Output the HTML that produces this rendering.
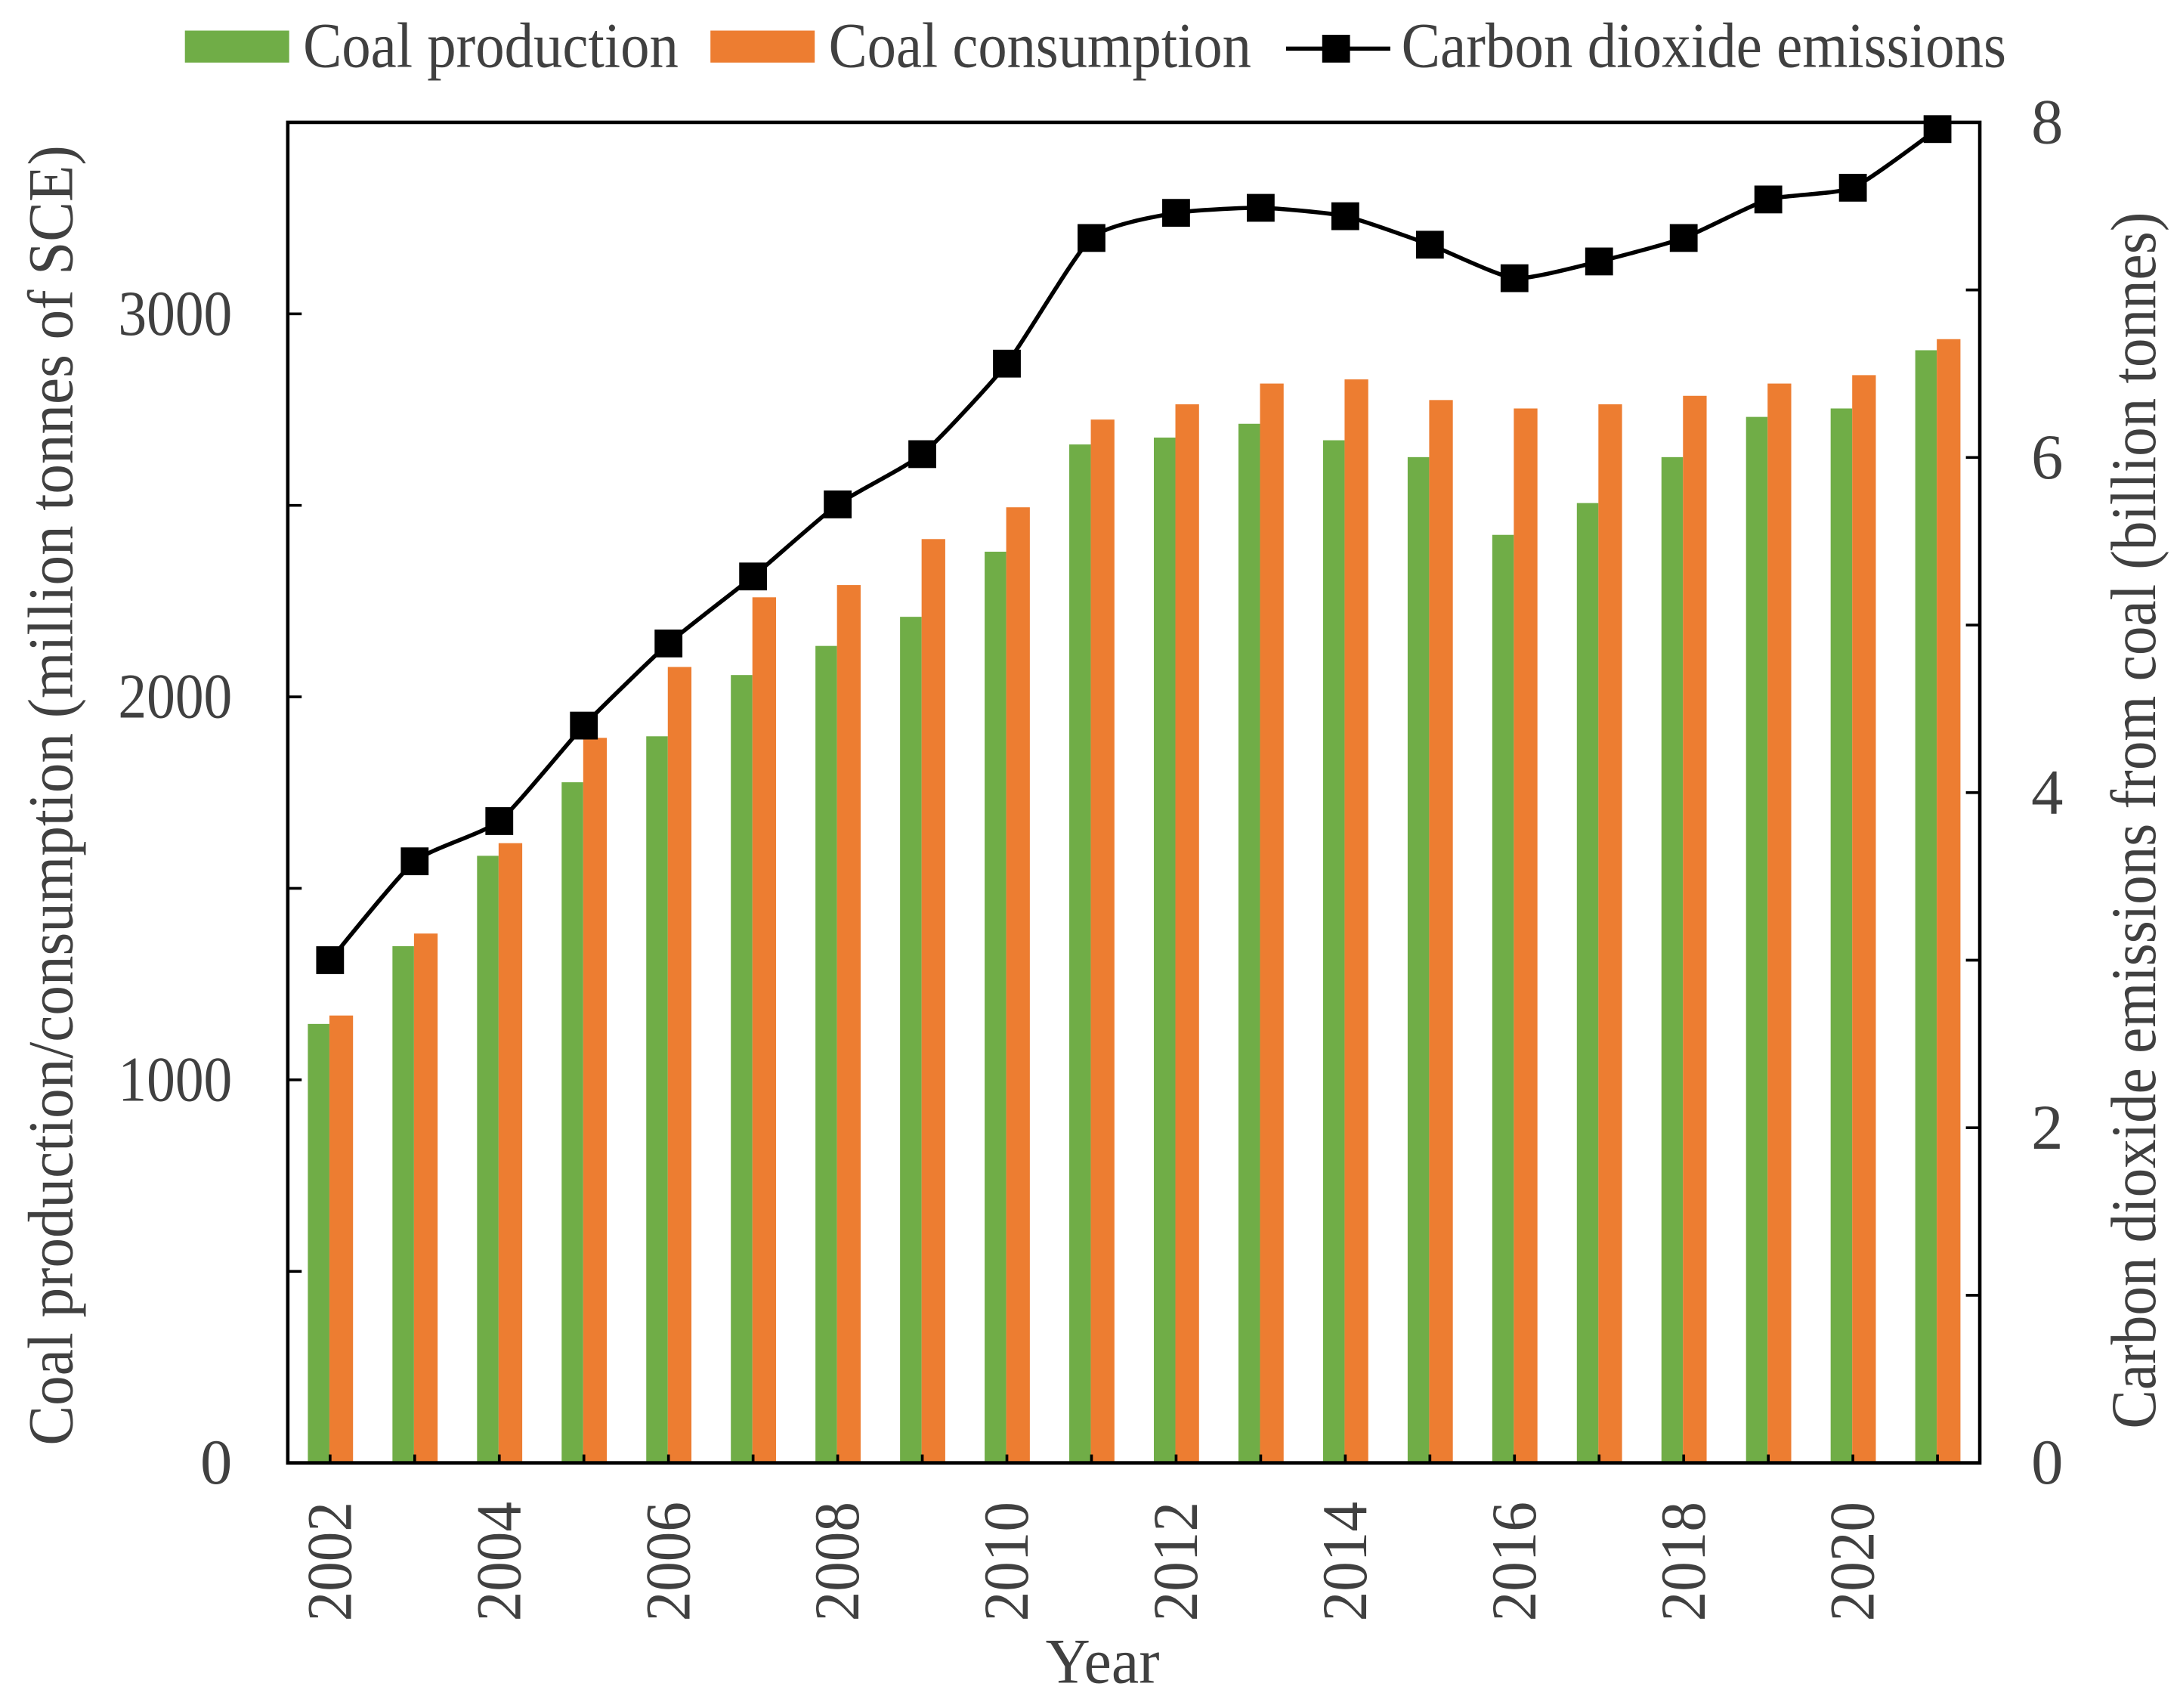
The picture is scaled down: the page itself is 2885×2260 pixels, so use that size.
<!DOCTYPE html>
<html><head><meta charset="utf-8"><style>
html,body{margin:0;padding:0;background:#fff;}
svg{display:block;font-family:"Liberation Serif",serif;}
</style></head><body>
<svg id="chart" width="2885" height="2260" viewBox="0 0 1568 1228.3" xmlns="http://www.w3.org/2000/svg">
<g id="legend">
 <g>
  <rect x="133" y="22" width="75" height="23" fill="#70ad47"/>
  <text x="218" y="48" font-size="46" fill="#404040" textLength="270" lengthAdjust="spacingAndGlyphs">Coal production</text>
 </g>
 <g>
  <rect x="511" y="22" width="75" height="23" fill="#ed7d31"/>
  <text x="596" y="48" font-size="46" fill="#404040" textLength="304" lengthAdjust="spacingAndGlyphs">Coal consumption</text>
 </g>
 <g>
  <line x1="925" y1="35" x2="1000" y2="35" stroke="#000" stroke-width="3"/>
  <rect x="951" y="25" width="20" height="20" fill="#000"/>
  <text x="1008" y="48" font-size="46" fill="#404040" textLength="435" lengthAdjust="spacingAndGlyphs">Carbon dioxide emissions</text>
 </g>
</g>
<g id="plot"></g>
<text x="793" y="1210" font-size="46" text-anchor="middle" fill="#404040" textLength="82" lengthAdjust="spacingAndGlyphs">Year</text>
<text transform="translate(52,572) rotate(-90)" font-size="46" text-anchor="middle" fill="#404040" textLength="935" lengthAdjust="spacingAndGlyphs">Coal production/consumption (million tonnes of SCE)</text>
<text transform="translate(1550,590) rotate(-90)" font-size="46" text-anchor="middle" fill="#404040" textLength="875" lengthAdjust="spacingAndGlyphs">Carbon dioxide emissions from coal (billion tonnes)</text>
</svg>
<script>
const years = [2002,2003,2004,2005,2006,2007,2008,2009,2010,2011,2012,2013,2014,2015,2016,2017,2018,2019,2020,2021];
const production = [1146,1349,1585,1777,1897,2057,2133,2209,2379,2659,2677,2713,2670,2626,2423,2506,2626,2731,2753,2905];
const consumption = [1168,1382,1618,1893,2078,2260,2292,2412,2495,2724,2764,2818,2829,2775,2753,2764,2786,2818,2840,2934];
const emissions = [3.00,3.59,3.83,4.40,4.89,5.29,5.72,6.02,6.56,7.31,7.46,7.49,7.44,7.27,7.07,7.17,7.31,7.54,7.61,7.96];
const leftTicks = [0,500,1000,1500,2000,2500,3000,3500];
const leftLabels = ["0","","1000","","2000","","3000",""];
const rightTicks = [0,1,2,3,4,5,6,7,8];
const rightLabels = ["0","","2","","4","","6","","8"];

const L=207,R=1424,T=88,B=1052;
const band=(R-L)/years.length;
const xC=i=>L+band/2+i*band;
const yL=v=>B-(v/3500)*(B-T);
const yR=v=>B-(v/8)*(B-T);
const NS="http://www.w3.org/2000/svg";
const g=document.getElementById('plot');
function mk(t,a){const e=document.createElementNS(NS,t);for(const k in a)e.setAttribute(k,a[k]);g.appendChild(e);return e;}

years.forEach((y,i)=>{
  const c=xC(i);
  const p=mk('rect',{x:c-16,y:yL(production[i]),width:15.5,height:B-yL(production[i]),fill:'#70ad47'});
  
  
  const q=mk('rect',{x:c-0.5,y:yL(consumption[i]),width:17,height:B-yL(consumption[i]),fill:'#ed7d31'});
  
  
});

const pts=emissions.map((v,i)=>[xC(i),yR(v)]);
let d='M'+pts[0][0]+','+pts[0][1];
const k=0.09;
for(let i=0;i<pts.length-1;i++){
  const p0=pts[i-1]||pts[i],p1=pts[i],p2=pts[i+1],p3=pts[i+2]||p2;
  const c1=[p1[0]+(p2[0]-p0[0])*k,p1[1]+(p2[1]-p0[1])*k];
  const c2=[p2[0]-(p3[0]-p1[0])*k,p2[1]-(p3[1]-p1[1])*k];
  d+=` C${c1[0]},${c1[1]} ${c2[0]},${c2[1]} ${p2[0]},${p2[1]}`;
}
const ln=mk('path',{d:d,fill:'none',stroke:'#000','stroke-width':3});


pts.forEach((p,i)=>{
  const m=mk('rect',{x:p[0]-10,y:p[1]-10,width:20,height:20,fill:'#000'});
  
  
});

const fr=mk('rect',{x:L,y:T,width:R-L,height:B-T,fill:'none',stroke:'#000','stroke-width':2.5});



leftTicks.forEach((v,i)=>{
  const y=yL(v);
  const t=mk('line',{x1:L,x2:L+10,y1:y,y2:y,stroke:'#000','stroke-width':2});
  
  
  if(leftLabels[i]){
    const tx=mk('text',{x:L-40,y:y+15,'font-size':46,'text-anchor':'end',fill:'#404040'});
    if(leftLabels[i].length>1){tx.setAttribute('textLength',82);tx.setAttribute('lengthAdjust','spacingAndGlyphs');}
    tx.textContent=leftLabels[i];
    
    
  }
});
rightTicks.forEach((v,i)=>{
  const y=yR(v);
  const t=mk('line',{x1:R-10,x2:R,y1:y,y2:y,stroke:'#000','stroke-width':2});
  
  
  if(rightLabels[i]){
    const tx=mk('text',{x:R+37,y:y+15,'font-size':46,fill:'#404040'});
    tx.textContent=rightLabels[i];
    
    
  }
});
years.forEach((y,i)=>{
  const c=xC(i);
  const t=mk('line',{x1:c,x2:c,y1:B-6,y2:B,stroke:'#000','stroke-width':2});
  
  
  if(i%2===0){
    const tx=mk('text',{transform:`translate(${c+15},${B+28}) rotate(-90)`,'font-size':46,'text-anchor':'end',fill:'#404040',textLength:86,lengthAdjust:'spacingAndGlyphs'});
    tx.textContent=y;
    
    
  }
});
</script>
</body></html>
